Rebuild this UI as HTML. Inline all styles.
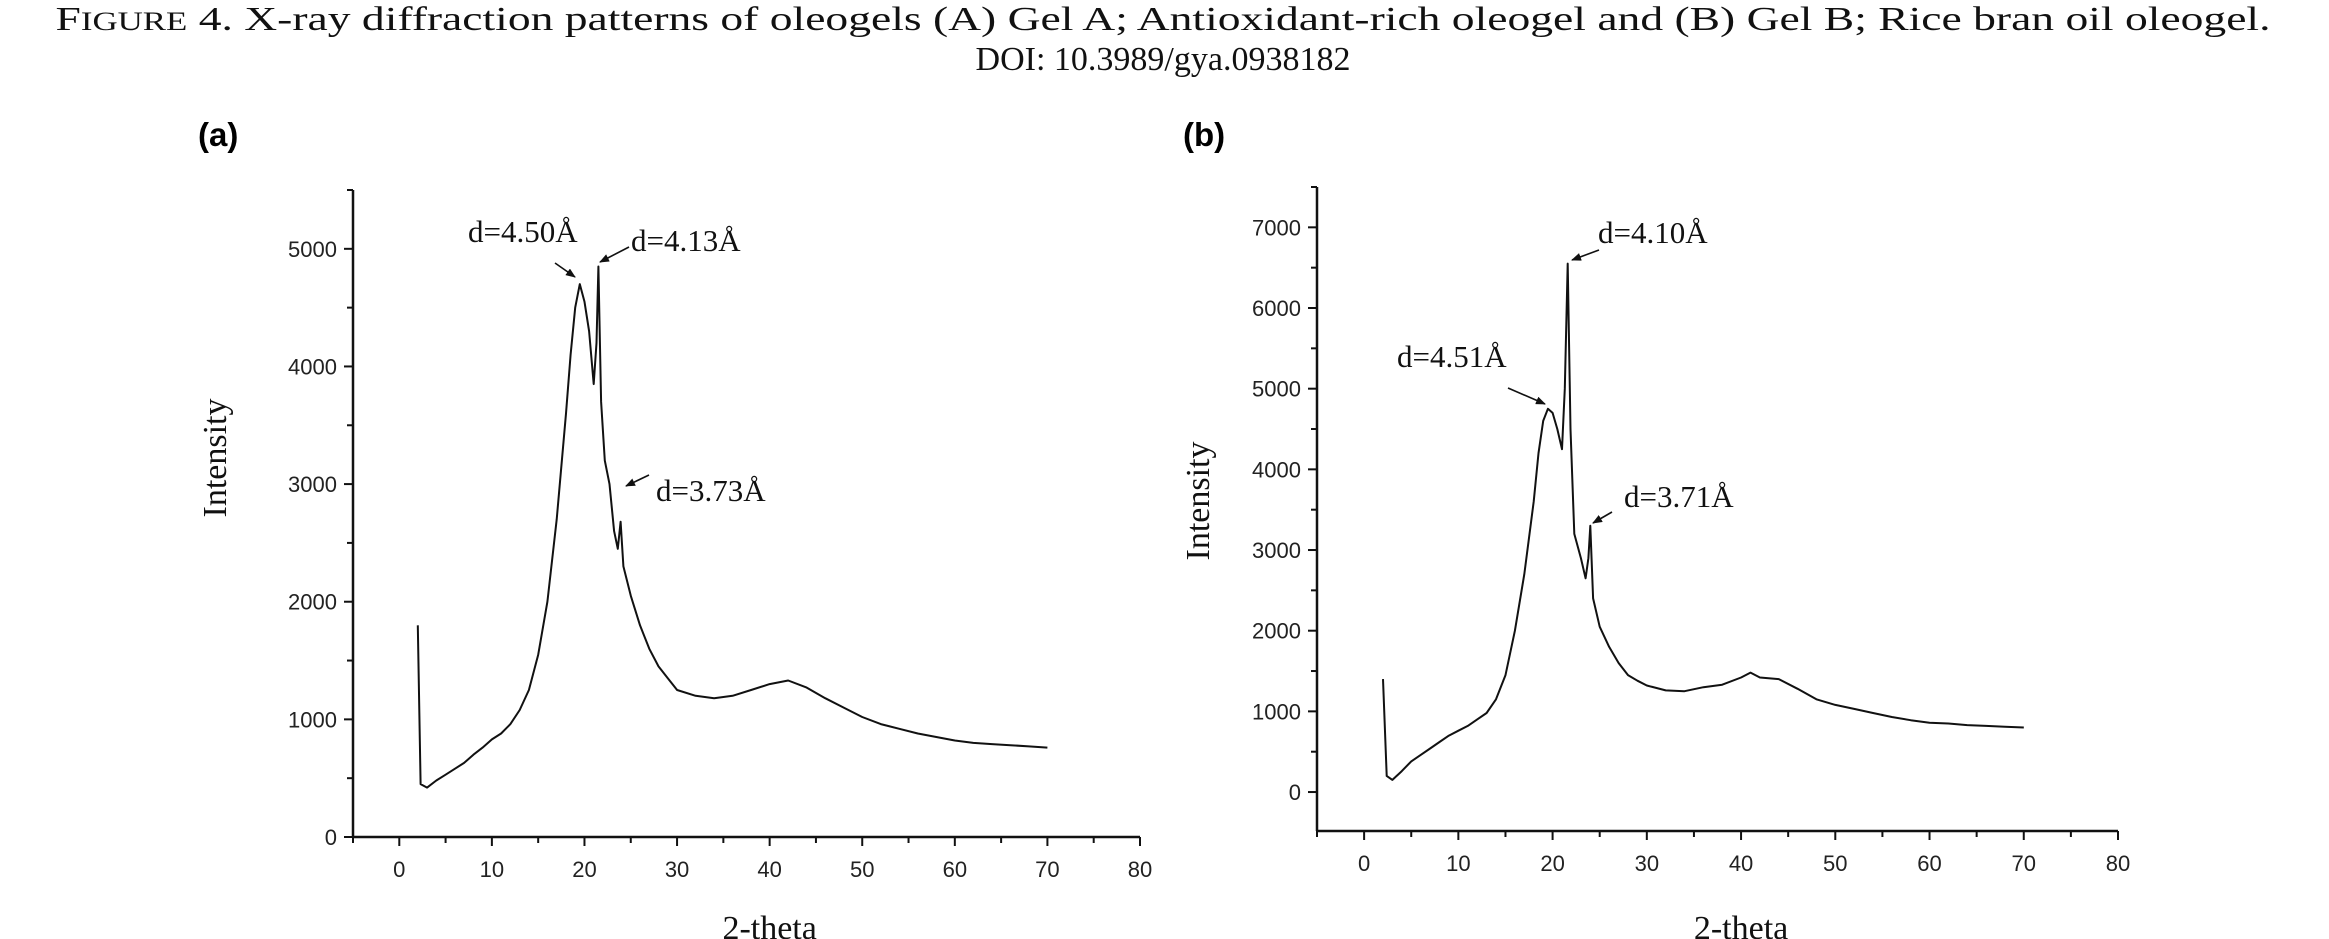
<!DOCTYPE html>
<html><head><meta charset="utf-8"><style>
body{margin:0;background:#fff;width:2329px;height:939px;overflow:hidden}
svg{display:block}
.tk{font-family:"Liberation Sans",sans-serif;font-size:22px;fill:#222}
.sr{font-family:"Liberation Serif",serif;fill:#111}
</style></head><body>
<svg id="fig" width="2329" height="939" viewBox="0 0 2329 939" xmlns="http://www.w3.org/2000/svg">
<text class="sr" x="1163" y="30" font-size="34" text-anchor="middle" textLength="2215" lengthAdjust="spacingAndGlyphs">F<tspan font-size="26">IGURE</tspan> 4.   X-ray diffraction patterns of oleogels (A) Gel A; Antioxidant-rich oleogel and (B) Gel B; Rice bran oil oleogel.</text>
<text class="sr" x="1163" y="70" font-size="34" text-anchor="middle">DOI: 10.3989/gya.0938182</text>
<text x="198" y="146" font-family="Liberation Sans,sans-serif" font-weight="bold" font-size="33">(a)</text>
<text x="1183" y="146" font-family="Liberation Sans,sans-serif" font-weight="bold" font-size="33">(b)</text>
</svg>
<script>
const xA=[2.0,2.3,3,4,5,6,7,8,9,10,11,12,13,14,15,16,17,18,18.5,19,19.5,20,20.5,21,21.3,21.5,21.8,22.2,22.7,23.2,23.6,23.9,24.2,25,26,27,28,29,30,32,34,36,38,40,42,44,46,48,50,52,54,56,58,60,62,64,66,68,70];
const yA=[1800,450,420,480,530,580,630,700,760,830,880,960,1080,1250,1550,2000,2700,3600,4100,4500,4700,4550,4300,3850,4200,4850,3700,3200,3000,2600,2450,2680,2300,2050,1800,1600,1450,1350,1250,1200,1180,1200,1250,1300,1330,1270,1180,1100,1020,960,920,880,850,820,800,790,780,770,760];
const xB=[2.0,2.4,3,4,5,6,7,8,9,10,11,12,13,14,15,16,17,18,18.5,19,19.5,20,20.5,21,21.3,21.6,21.9,22.3,23,23.5,23.8,24,24.3,25,26,27,28,29,30,32,34,36,38,40,41,42,44,46,48,50,52,54,56,58,60,62,64,66,68,70];
const yB=[1400,200,150,260,380,460,540,620,700,760,820,900,980,1150,1450,2000,2700,3600,4200,4600,4750,4700,4500,4250,5000,6550,4500,3200,2900,2650,2900,3300,2400,2050,1800,1600,1450,1380,1320,1260,1250,1300,1330,1420,1480,1420,1400,1280,1150,1080,1030,980,930,890,860,850,830,820,810,800];
const xTicks=[0,10,20,30,40,50,60,70,80];
const yTicksA=[0,1000,2000,3000,4000,5000];
const yTicksB=[0,1000,2000,3000,4000,5000,6000,7000];
const annA=[["d=4.50Å",468,242,555,263,575,277],["d=4.13Å",631,251,629,247,600,262],["d=3.73Å",656,501,649,475,626,486]];
const annB=[["d=4.10Å",1598,243,1599,250,1572,260],["d=4.51Å",1397,367,1508,388,1545,404],["d=3.71Å",1624,507,1612,512,1593,523]];
const svg=document.getElementById('fig');
const NS="http://www.w3.org/2000/svg";
function mk(tag,attrs,parent){const e=document.createElementNS(NS,tag);for(const k in attrs)e.setAttribute(k,attrs[k]);(parent||svg).appendChild(e);return e;}
const defs=mk('defs',{});
const mrk=mk('marker',{id:'ah',markerWidth:10,markerHeight:8,refX:9,refY:4,orient:'auto',markerUnits:'userSpaceOnUse'},defs);
mk('path',{d:'M0,0 L10,4 L0,8 Z',fill:'#111'},mrk);
function panel(p,xs,ys,yTicks,ann,id){
  const sx=v=>p.x0+(v-p.xmin)/(p.xmax-p.xmin)*(p.x1-p.x0);
  const sy=v=>p.y0-(v-p.ymin)/(p.ymax-p.ymin)*(p.y0-p.y1);
  const g=mk('g',{});
  
  
  const ya=mk('line',{x1:p.x0,y1:p.y0,x2:p.x0,y2:p.y1,stroke:'#111','stroke-width':2.5},g);
  
  
  const xa=mk('line',{x1:p.x0,y1:p.y0,x2:p.x1,y2:p.y0,stroke:'#111','stroke-width':2.5},g);
  
  
  for(let v=-5;v<=80;v+=5){const X=sx(v);mk('line',{x1:X,y1:p.y0,x2:X,y2:p.y0+(v%10===0?9:6),stroke:'#111','stroke-width':2},g);}
  xTicks.forEach(v=>{const t=mk('text',{x:sx(v),y:p.y0+40,'text-anchor':'middle',class:'tk'},g);t.textContent=v;
    
    });
  for(let v=Math.ceil(p.ymin/500)*500;v<=p.ymax;v+=500){const Y=sy(v);mk('line',{x1:p.x0,y1:Y,x2:p.x0-(v%1000===0?9:6),y2:Y,stroke:'#111','stroke-width':2},g);}
  yTicks.forEach(v=>{const t=mk('text',{x:p.x0-16,y:sy(v)+8,'text-anchor':'end',class:'tk'},g);t.textContent=v;
    
    });
  const xt=mk('text',{x:(sx(0)+sx(80))/2,y:939,'text-anchor':'middle',class:'sr','font-size':34},g);xt.textContent='2-theta';
  
  
  const yt=mk('text',{x:0,y:0,'text-anchor':'middle',class:'sr','font-size':34,transform:`translate(${p.tx},${p.ty}) rotate(-90)`},g);yt.textContent='Intensity';
  
  
  const d=xs.map((v,i)=>(i?'L':'M')+sx(v).toFixed(1)+','+sy(ys[i]).toFixed(1)).join(' ');
  const ln=mk('path',{d:d,fill:'none',stroke:'#111','stroke-width':2,'stroke-linejoin':'round'},g);
  
  
  ann.forEach(a=>{const t=mk('text',{x:a[1],y:a[2],class:'sr','font-size':31},g);t.textContent=a[0];
    
    
    const ar=mk('line',{x1:a[3],y1:a[4],x2:a[5],y2:a[6],stroke:'#111','stroke-width':1.6,'marker-end':'url(#ah)'},g);
    
    });
}
panel({x0:353,x1:1140,y0:837,y1:190,xmin:-5,xmax:80,ymin:0,ymax:5500,tx:226,ty:458},xA,yA,yTicksA,annA,'panel-a');
panel({x0:1317,x1:2118,y0:831,y1:187,xmin:-5,xmax:80,ymin:-483,ymax:7500,tx:1209,ty:501},xB,yB,yTicksB,annB,'panel-b');
</script>
</body></html>
